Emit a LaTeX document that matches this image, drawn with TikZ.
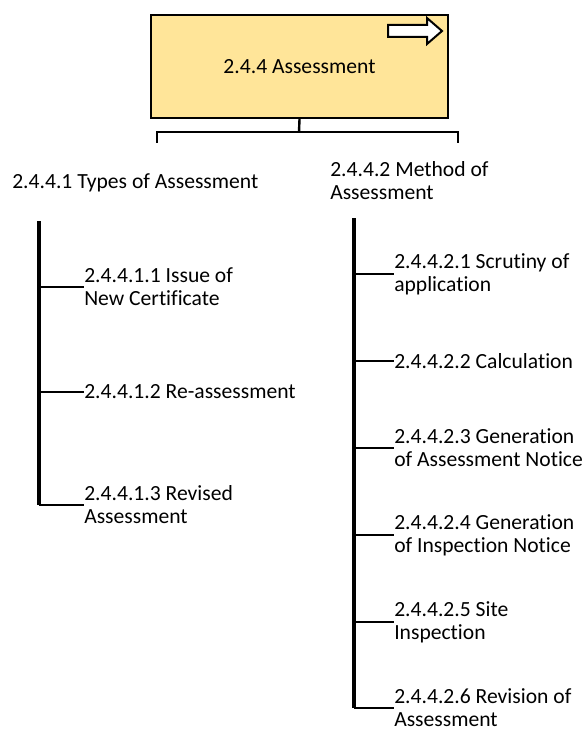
\documentclass[tikz,border=0pt]{standalone}
\usepackage{fontspec}
\setmainfont{Carlito}[Ligatures=NoCommon]
\definecolor{boxfill}{RGB}{255,229,153}
\begin{document}
\begin{tikzpicture}[x=0.75pt,y=-0.75pt,
  label/.style={inner sep=0pt,anchor=west,align=left,font=\fontsize{16.2}{17.3}\selectfont},
  trunk/.style={line width=2.4pt},
  twig/.style={line width=1.8pt},
  bracket/.style={line width=1.8pt}]
\useasboundingbox (0,0) rectangle (584,731);
% top box with its arrow marker
\node[draw,line width=1.8pt,fill=boxfill,minimum width=297*0.75pt,minimum height=103*0.75pt,
  inner sep=0pt,font=\fontsize{16.2}{17.3}\selectfont] (root) at (299.5,66.5) {2.4.4 Assessment};
\draw[line width=1.5pt,fill=white] (388,25) -- (427,25) -- (427,18) -- (442,31) -- (427,44)
  -- (427,37) -- (388,37) -- cycle;
% bracket under the box
\coordinate (bl) at (157,143);
\coordinate (br) at (458,143);
\coordinate (bm) at (299,132);
\draw[bracket] (root.south) -- (bm);
\draw[bracket] (bl) |- (bm) -| (br);
% second level
\node[label] (types) at (12,183) {2.4.4.1 Types of Assessment};
\node[label] (method) at (330,181) {2.4.4.2 Method of\\Assessment};
% left branch
\coordinate (lt) at (39,221);
\node[label] (l1) at (84,287) {2.4.4.1.1 Issue of\\New Certificate};
\node[label] (l2) at (84,392) {2.4.4.1.2 Re-assessment};
\node[label] (l3) at (84,505) {2.4.4.1.3 Revised\\Assessment};
\draw[trunk] (lt) -- (lt |- l3.west);
\foreach \n in {l1,l2,l3}
  \draw[twig] (lt |- \n.west) -- (\n.west);
% right branch
\coordinate (rt) at (354,218);
\node[label] (r1) at (394,274) {2.4.4.2.1 Scrutiny of\\application};
\node[label] (r2) at (394,361) {2.4.4.2.2 Calculation};
\node[label] (r3) at (394,448) {2.4.4.2.3 Generation\\of Assessment Notice};
\node[label] (r4) at (394,535) {2.4.4.2.4 Generation\\of Inspection Notice};
\node[label] (r5) at (394,622) {2.4.4.2.5 Site\\Inspection};
\node[label] (r6) at (394,708) {2.4.4.2.6 Revision of\\Assessment};
\draw[trunk] (rt) -- (rt |- r6.west);
\foreach \n in {r1,r2,r3,r4,r5,r6}
  \draw[twig] (rt |- \n.west) -- (\n.west);
\end{tikzpicture}
\end{document}
